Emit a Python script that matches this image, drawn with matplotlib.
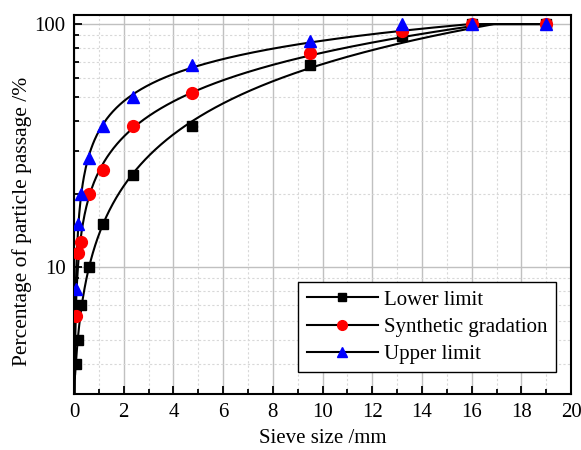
import matplotlib
matplotlib.use("Agg")
import matplotlib.pyplot as plt
import numpy as np
from matplotlib.ticker import FixedLocator, FixedFormatter, NullFormatter, MultipleLocator

plt.rcParams['font.family'] = ['Liberation Serif', 'DejaVu Serif']

# sieve sizes (mm) and passing percentages
sieve = [0.075, 0.15, 0.3, 0.6, 1.18, 2.36, 4.75, 9.5, 13.2, 16, 19]
lower = [4.0, 5.0, 7.0, 10.0, 15.0, 24.0, 38.0, 68.0, 89.0, 100, 100]
synthetic = [6.3, 11.4, 12.7, 20.0, 25.0, 38.0, 52.0, 76.0, 93.5, 100, 100]
upper = [8.1, 15.0, 20.0, 28.0, 38.0, 50.0, 68.0, 85.0, 100, 100, 100]


def fit_curve(x, y, xn, deg=3):
    # smooth fitted curve in log-log space, capped at 100 %
    c = np.polyfit(np.log10(x), np.log10(y), deg)
    return np.minimum(10 ** np.polyval(c, np.log10(xn)), 100)


fig = plt.figure(figsize=(5.81, 4.5), dpi=100)
ax = fig.add_axes([0.1274, 0.1238, 0.8556, 0.8429])

xs = np.linspace(0.02, 19, 800)
series = [
    (lower, 's', 'black', 'Lower limit', 7.5),
    (synthetic, 'o', 'red', 'Synthetic gradation', 8.5),
    (upper, '^', 'blue', 'Upper limit', 8.5),
]
for vals, mk, col, lab, ms in series:
    ax.plot(xs, fit_curve(sieve, vals, xs), color='black', lw=1.5, zorder=2)
    ax.plot(sieve, vals, ls='none', marker=mk, color=col, ms=ms, zorder=3)
    ax.plot([], [], color='black', lw=1.5, marker=mk, mfc=col, mec=col, ms=ms - 1.5, label=lab)

ax.set_yscale('log')
ax.set_xlim(0, 20)
ax.set_ylim(3, 109)
ax.xaxis.set_major_locator(MultipleLocator(2))
ax.xaxis.set_minor_locator(MultipleLocator(1))
ax.yaxis.set_major_locator(FixedLocator([10, 100]))
ax.yaxis.set_minor_locator(FixedLocator([3, 4, 5, 6, 7, 8, 9, 20, 30, 40, 50, 60, 70, 80, 90]))
ax.yaxis.set_major_formatter(FixedFormatter(['10', '100']))
ax.yaxis.set_minor_formatter(NullFormatter())

ax.grid(which='major', color='#c0c0c0', lw=1.0, ls='-')
ax.grid(which='minor', color='#d8d8d8', lw=0.8, ls=(0, (2, 2)))
ax.set_axisbelow(True)

ax.tick_params(which='both', direction='in', labelsize=15, width=1.3, top=False, right=False)
ax.tick_params(axis='x', which='major', length=6, pad=6)
ax.tick_params(axis='y', which='major', length=6, pad=6)
ax.tick_params(which='minor', length=3.5)
for s in ax.spines.values():
    s.set_linewidth(1.5)

ax.set_xlabel('Sieve size /mm', fontsize=15, labelpad=5.5)
ax.set_ylabel('Percentage of particle passage /%', fontsize=15.5)
ax.yaxis.set_label_coords(-0.085, 0.455)

leg = ax.legend(loc='lower right', bbox_to_anchor=(0.969, 0.058), borderaxespad=0,
                fontsize=15, fancybox=False, framealpha=1, edgecolor='black',
                handlelength=3.4, borderpad=0.4, labelspacing=0.36, handletextpad=0.3)
leg.get_frame().set_linewidth(1.0)

fig.savefig('out.png', dpi=100)
